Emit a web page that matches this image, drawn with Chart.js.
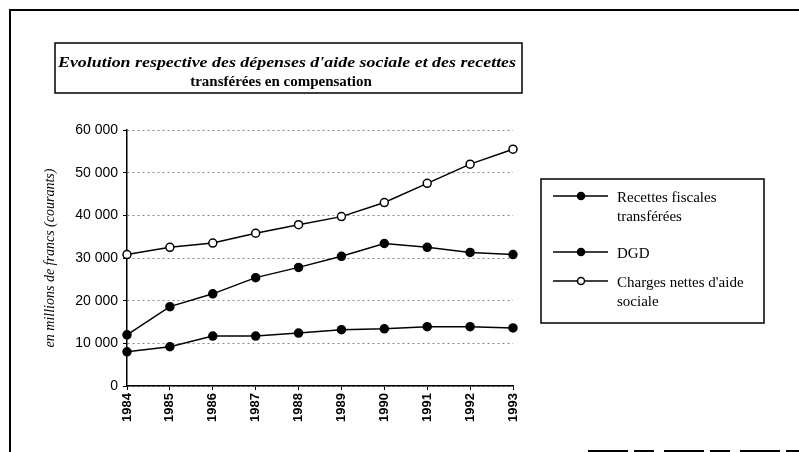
<!DOCTYPE html>
<html>
<head>
<meta charset="utf-8">
<script src="https://cdn.jsdelivr.net/npm/chart.js@4/dist/chart.umd.min.js"></script>
<style>
  html, body { margin: 0; padding: 0; background: #fff; }
  #wrap { width: 799px; height: 452px; }
</style>
</head>
<body>
<div id="wrap"><canvas id="chart" width="799" height="452"></canvas></div>
<script>
// values (millions de francs courants)
const years = ['1984', '1985', '1986', '1987', '1988', '1989', '1990', '1991', '1992', '1993'];
const recettesFiscales = [12000, 18600, 21600, 25400, 27800, 30400, 33400, 32500, 31300, 30800];
const dgd = [8000, 9200, 11700, 11700, 12400, 13200, 13400, 13900, 13900, 13600];
const chargesNettes = [30800, 32500, 33500, 35800, 37800, 39700, 43000, 47500, 52000, 55500];

const seriesLabels = ['Recettes fiscales\ntransférées', 'DGD', "Charges nettes d'aide\nsociale"];
const titleLines = ["Evolution respective des dépenses d'aide sociale et des recettes", 'transférées en compensation'];
const yTitle = 'en millions de francs (courants)';

const serif = "'Liberation Serif', 'DejaVu Serif', serif";
const narrow = "'Liberation Sans Narrow', 'Liberation Sans', Arial, sans-serif";

// frame, title box and legend box of the scanned page
const decorations = {
    id: 'decorations',
    beforeDraw(chart) {
        const ctx = chart.ctx;
        ctx.save();
        ctx.fillStyle = '#fff';
        ctx.fillRect(0, 0, chart.width, chart.height);
        ctx.restore();
    },
    afterDraw(chart) {
        const ctx = chart.ctx;
        ctx.save();
        ctx.strokeStyle = '#000';

        // outer frame
        ctx.lineWidth = 2;
        ctx.beginPath();
        ctx.moveTo(10, 452); ctx.lineTo(10, 10); ctx.lineTo(799, 10);
        ctx.stroke();
        ctx.setLineDash([40, 6, 20, 10]);
        ctx.beginPath();
        ctx.moveTo(588, 451); ctx.lineTo(799, 451);
        ctx.stroke();
        ctx.setLineDash([]);

        // title box
        ctx.lineWidth = 1.5;
        ctx.strokeRect(55, 43, 467, 50);
        ctx.fillStyle = '#000';
        ctx.textBaseline = 'middle';
        ctx.font = 'italic bold 15px ' + serif;
        let w = ctx.measureText(titleLines[0]).width;
        ctx.save();
        ctx.translate(58, 63);
        ctx.scale(458 / w, 1);
        ctx.textAlign = 'left';
        ctx.fillText(titleLines[0], 0, 0);
        ctx.restore();
        ctx.font = 'bold 15px ' + serif;
        ctx.textAlign = 'center';
        ctx.fillText(titleLines[1], 281, 82);

        // legend box
        ctx.lineWidth = 1.5;
        ctx.strokeRect(541, 179, 223, 144);
        const rows = [196, 252, 281];
        ctx.font = '15px ' + serif;
        ctx.textAlign = 'left';
        chart.data.datasets.forEach((ds, i) => {
            const y = rows[i];
            ctx.lineWidth = 1.5;
            ctx.strokeStyle = '#000';
            ctx.beginPath();
            ctx.moveTo(553, y); ctx.lineTo(608, y);
            ctx.stroke();
            ctx.beginPath();
            ctx.arc(581, y, 3.5, 0, Math.PI * 2);
            ctx.fillStyle = ds.pointBackgroundColor;
            ctx.fill();
            ctx.stroke();
            ctx.fillStyle = '#000';
            ds.label.split('\n').forEach((line, k) => {
                ctx.fillText(line, 617, y + 2 + k * 19);
            });
        });
        ctx.restore();
    }
};

new Chart(document.getElementById('chart').getContext('2d'), {
    type: 'line',
    data: {
        labels: years,
        datasets: [
            { label: seriesLabels[0], data: recettesFiscales, pointBackgroundColor: '#000' },
            { label: seriesLabels[1], data: dgd, pointBackgroundColor: '#000' },
            { label: seriesLabels[2], data: chargesNettes, pointBackgroundColor: '#fff' }
        ].map(ds => ({
            ...ds,
            borderColor: '#000',
            borderWidth: 1.5,
            pointBorderColor: '#000',
            pointBorderWidth: 1.5,
            pointRadius: 4,
            pointStyle: 'circle',
            tension: 0
        }))
    },
    options: {
        responsive: false,
        animation: false,
        layout: { padding: { left: 40, right: 286, top: 130, bottom: 0 } },
        plugins: {
            legend: { display: false },
            title: { display: false },
            tooltip: { enabled: false }
        },
        scales: {
            x: {
                afterFit: (scale) => { scale.height = 66; },
                grid: { display: true, drawOnChartArea: false, tickLength: 4, tickColor: '#000', tickWidth: 1 },
                border: { display: true, color: '#000', width: 1.5 },
                ticks: {
                    minRotation: 90, maxRotation: 90, padding: 3,
                    color: '#000',
                    font: { family: narrow, size: 13, weight: 'bold' }
                }
            },
            y: {
                min: 0, max: 60000,
                afterFit: (scale) => { scale.width = 87; },
                grid: { color: '#888', lineWidth: 1, tickLength: 4, tickColor: '#000' },
                border: { display: true, color: '#000', width: 1.5, dash: [2, 3] },
                ticks: {
                    stepSize: 10000, padding: 5, color: '#000',
                    font: { family: narrow, size: 14 },
                    callback: (v) => v === 0 ? '0' : (v / 1000) + ' 000'
                },
                title: {
                    display: true, text: yTitle, color: '#000',
                    font: { family: serif, size: 14, style: 'italic' },
                    padding: { top: 2, bottom: 0 }
                }
            }
        }
    },
    plugins: [decorations]
});
</script>
</body>
</html>
